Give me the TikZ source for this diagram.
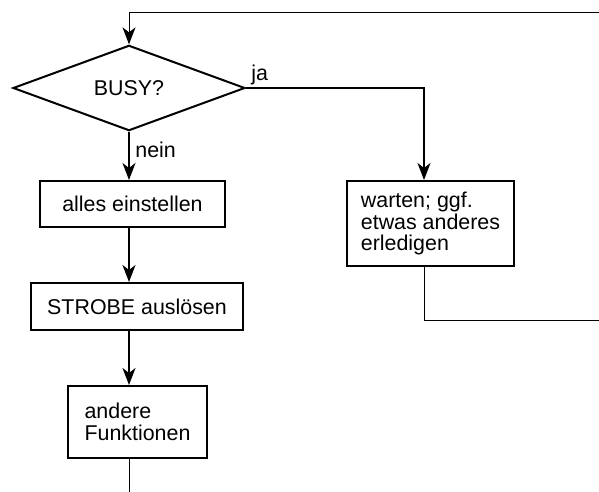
\documentclass[tikz,border=0pt]{standalone}
\usepackage{fontspec}
\setmainfont{Liberation Sans}
\usetikzlibrary{shapes.geometric,arrows.meta,positioning}

\begin{document}
\begin{tikzpicture}[
    x=0.5pt, y=-0.5pt,
    every node/.style={font=\fontsize{10.7pt}{10.9pt}\selectfont},
    box/.style={draw, line width=1pt, align=left, inner sep=0pt},
    decision/.style={draw, diamond, line width=1pt, inner sep=0pt,
        minimum width=116pt, minimum height=37pt},
    flow/.style={line width=1pt, -{Stealth[length=8.5pt, width=6.5pt, inset=2.5pt]}},
    back/.style={line width=0.5pt},
    backflow/.style={back, -{Stealth[length=8.5pt, width=6.5pt, inset=2.5pt]}},
    answer/.style={inner sep=1.5pt}
]
\useasboundingbox (0,0) rectangle (599,492);
\node[decision] (busy) at (129,88) {BUSY?};
\node[box, minimum width=92.5pt, minimum height=23pt] (alles) at (132.5,204) {alles einstellen};
\node[box, minimum width=106pt, minimum height=23.5pt] (strobe) at (137,306.5) {STROBE auslösen};
\node[box, minimum width=69.5pt, minimum height=36pt] (andere) at (137.5,422) {andere\\Funktionen};
\node[box, minimum width=83.5pt, minimum height=42.5pt] (warten) at (430.5,223.5) {warten; ggf.\\etwas anderes\\erledigen};
\node[answer, anchor=south west, xshift=1pt] (ja) at (busy.east) {ja};
\node[answer, anchor=north west, xshift=1.5pt, yshift=-3.5pt] (nein) at (busy.south) {nein};
\coordinate (rechtsoben) at (599,13);
\coordinate (rechtsunten) at (599,320);
\coordinate (unten) at (129,492);

\draw[backflow] (rechtsoben) -| (busy.north);
\draw[flow] (busy.south) -- (busy.south |- alles.north);
\draw[flow] (busy.south |- alles.south) -- (busy.south |- strobe.north);
\draw[flow] (busy.south |- strobe.south) -- (busy.south |- andere.north);
\draw[back] (busy.south |- andere.south) -- (unten);
\draw[flow] (busy.east) -| ([xshift=-3.25pt]warten.north);
\draw[back] ([xshift=-3.25pt]warten.south) |- (rechtsunten);
\end{tikzpicture}
\end{document}
